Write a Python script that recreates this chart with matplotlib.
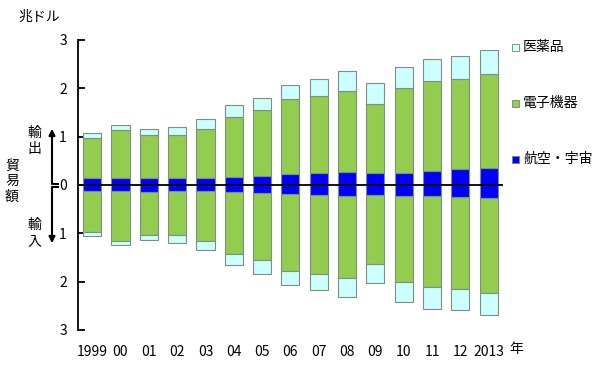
import numpy as np
import matplotlib
matplotlib.use('Agg')
import matplotlib.pyplot as plt
from matplotlib.ticker import FixedLocator, FixedFormatter

plt.rcParams['font.family'] = ['Noto Sans CJK JP', 'DejaVu Sans']

years = ['1999', '00', '01', '02', '03', '04', '05', '06', '07', '08', '09', '10', '11', '12', '2013']
series = ['航空・宇宙', '電子機器', '医薬品']
colors = ['#0000ff', '#92cd4f', '#ccffff']

# 輸出 (cumulative tops, trillion USD)
exp_aero = [0.14, 0.14, 0.15, 0.145, 0.15, 0.165, 0.18, 0.22, 0.24, 0.26, 0.25, 0.255, 0.29, 0.33, 0.36]
exp_elec_top = [0.97, 1.13, 1.03, 1.03, 1.16, 1.41, 1.55, 1.77, 1.84, 1.945, 1.67, 2.0, 2.15, 2.19, 2.30]
exp_total = [1.07, 1.235, 1.15, 1.19, 1.36, 1.65, 1.81, 2.06, 2.19, 2.36, 2.10, 2.45, 2.61, 2.66, 2.79]

# 輸入
imp_aero = [0.12, 0.12, 0.14, 0.13, 0.13, 0.15, 0.16, 0.19, 0.20, 0.22, 0.21, 0.22, 0.22, 0.25, 0.27]
imp_elec_top = [0.966, 1.15, 1.03, 1.03, 1.165, 1.43, 1.56, 1.77, 1.84, 1.92, 1.63, 2.0, 2.12, 2.15, 2.24]
imp_total = [1.06, 1.25, 1.145, 1.19, 1.35, 1.66, 1.835, 2.07, 2.18, 2.31, 2.03, 2.42, 2.56, 2.59, 2.70]

exp_parts = [np.array(exp_aero),
             np.array(exp_elec_top) - np.array(exp_aero),
             np.array(exp_total) - np.array(exp_elec_top)]
imp_parts = [np.array(imp_aero),
             np.array(imp_elec_top) - np.array(imp_aero),
             np.array(imp_total) - np.array(imp_elec_top)]

fig = plt.figure(figsize=(6, 3.79), dpi=100)
ax = fig.add_axes([0.13, 0.1293, 0.7083, 0.7652])

x = np.arange(len(years))
w = 0.636
bot_e = np.zeros(len(years))
bot_i = np.zeros(len(years))
for i in range(3):
    ax.bar(x, exp_parts[i], w, bottom=bot_e, color=colors[i], edgecolor='#7f8f7f', linewidth=0.8, zorder=2)
    ax.bar(x, -imp_parts[i], w, bottom=-bot_i, color=colors[i], edgecolor='#7f8f7f', linewidth=0.8, zorder=2)
    bot_e += exp_parts[i]
    bot_i += imp_parts[i]

ax.axhline(0, color='black', linewidth=1.3, zorder=3)
ax.set_xlim(-0.5, 14.5)
ax.set_ylim(-3, 3)
for s in ['top', 'right', 'bottom']:
    ax.spines[s].set_visible(False)
ax.spines['left'].set_linewidth(1.3)
ticks = [-3, -2, -1, 0, 1, 2, 3]
ax.yaxis.set_major_locator(FixedLocator(ticks))
ax.yaxis.set_major_formatter(FixedFormatter([str(abs(t)) for t in ticks]))
ax.tick_params(axis='y', direction='in', length=5, width=1.3, labelsize=10, pad=8)
ax.set_xticks(x)
ax.set_xticklabels(years, fontsize=10)
ax.tick_params(axis='x', length=0, pad=11)

fig.text(18, 379 - 17, '兆ドル', transform=None, fontsize=10, va='center', ha='left')
fig.text(509, 379 - 349, '年', transform=None, fontsize=10, va='center', ha='left')

# legend
leg_y = [47, 103, 159]
for name, c, yy in zip(series[::-1], colors[::-1], leg_y):
    fig.patches.append(plt.Rectangle((512 / 600, 1 - (yy + 4) / 379), 7 / 600, 7 / 379,
                                     transform=fig.transFigure, facecolor=c, edgecolor='#7f7f7f', linewidth=0.6))
    fig.text(523, 379 - yy, name, transform=None, fontsize=10, va='center', ha='left')

# side labels
fig.text(34, 379 - 141, '輸\n出', transform=None, fontsize=10, va='center', ha='center', linespacing=1.15)
fig.text(34, 379 - 233, '輸\n入', transform=None, fontsize=10, va='center', ha='center', linespacing=1.15)
fig.text(12, 379 - 181, '貿\n易\n額', transform=None, fontsize=10, va='center', ha='center', linespacing=1.15)
fig.add_artist(plt.Line2D([52 / 600, 52 / 600, 58 / 600], [1 - 181 / 379, 1 - 184 / 379, 1 - 184 / 379],
                          color='black', linewidth=1.5, transform=fig.transFigure))
fig.add_artist(plt.Line2D([52 / 600, 52 / 600, 58 / 600], [1 - 190 / 379, 1 - 187 / 379, 1 - 187 / 379],
                          color='black', linewidth=1.5, transform=fig.transFigure))
ax.annotate('', xy=(52, 379 - 126), xytext=(52, 379 - 182), xycoords='figure pixels',
            arrowprops=dict(arrowstyle='-|>', color='black', lw=1.5, mutation_scale=9), annotation_clip=False)
ax.annotate('', xy=(52, 379 - 246), xytext=(52, 379 - 189), xycoords='figure pixels',
            arrowprops=dict(arrowstyle='-|>', color='black', lw=1.5, mutation_scale=9), annotation_clip=False)

fig.savefig('out.png', dpi=100)
